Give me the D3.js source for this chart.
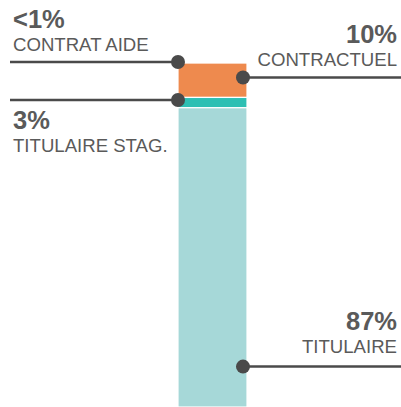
<!DOCTYPE html>
<html>
<head>
<meta charset="utf-8">
<script src="https://cdn.jsdelivr.net/npm/d3@7"></script>
<style>
  body { margin: 0; background: #fff; }
  svg { display: block; }
  text { font-family: "Liberation Sans", Arial, sans-serif; }
</style>
</head>
<body>
<div id="graf"></div>
<script>
// Statuts - barre empilée unique

// Données
categories = ['CONTRAT AIDE', 'CONTRACTUEL', 'TITULAIRE STAG.', 'TITULAIRE']
valeurs    = [0.3, 10, 3, 87]
etiquettes = ['<1%', '10%', '3%', '87%']
couleurs   = ['#ee8a4e', '#ee8a4e', '#2dbfb3', '#a6d8d8']

ancho_total = 401
alto_total  = 407

svg = d3.select('#graf').append('svg')
        .attr('width', ancho_total)
        .attr('height', alto_total)

// empilement : titulaire en bas, contrat aidé en haut
data = categories.map((c, i) => ({ cat: c, value: valeurs[i], label: etiquettes[i], color: couleurs[i] }))
total = d3.sum(valeurs)
acc = 0
data.slice().reverse().forEach(d => {
  d.y0 = acc
  acc += d.value
  d.y1 = acc
})

// Escaladores
x = d3.scaleBand().domain(['statut']).range([178, 247])
y = d3.scaleLinear().domain([0, total]).range([407, 62])

// barres
svg.selectAll('rect.seg')
   .data(data)
   .enter().append('rect')
   .attr('class', 'seg')
   .attr('x', x('statut'))
   .attr('width', x.bandwidth())
   .attr('y', d => y(d.y1))
   .attr('height', d => y(d.y0) - y(d.y1))
   .attr('fill', d => d.color)
   .attr('stroke', '#fff')
   .attr('stroke-width', 1.2)

// annotations : côté, position dans le segment (0 = haut, 1 = bas), texte au-dessus ou dessous
callouts = {
  'CONTRAT AIDE':    { side: 'left',  t: 0,     pos: 'above', dy: 0 },
  'CONTRACTUEL':     { side: 'right', t: 0.42,  pos: 'above', dy: 0 },
  'TITULAIRE STAG.': { side: 'left',  t: 0.25,  pos: 'below', dy: 0 },
  'TITULAIRE':       { side: 'right', t: 0.865, pos: 'above', dy: -3 }
}

gris = '#4a4a4a'
texte = '#5a5a5a'

data.forEach(d => {
  c = callouts[d.cat]
  cy = y(d.y1) + c.t * (y(d.y0) - y(d.y1))
  cx = c.side === 'left' ? x('statut') : x('statut') + x.bandwidth() - 4
  x2 = c.side === 'left' ? 10 : ancho_total
  tx = c.side === 'left' ? 13 : 397
  anchor = c.side === 'left' ? 'start' : 'end'

  svg.append('line')
     .attr('x1', x2).attr('x2', cx)
     .attr('y1', cy).attr('y2', cy)
     .attr('stroke', gris)
     .attr('stroke-width', 2.5)
  svg.append('circle')
     .attr('cx', cx).attr('cy', cy)
     .attr('r', 7)
     .attr('fill', gris)

  yNum = (c.pos === 'above' ? cy - 34 : cy + 29) + c.dy
  yLab = (c.pos === 'above' ? cy - 11 : cy + 52) + c.dy

  svg.append('text')
     .attr('x', tx).attr('y', yNum)
     .attr('text-anchor', anchor)
     .attr('fill', texte)
     .style('font-size', '25.5px')
     .style('font-weight', 'bold')
     .text(d.label)
  svg.append('text')
     .attr('x', tx).attr('y', yLab)
     .attr('text-anchor', anchor)
     .attr('fill', texte)
     .style('font-size', '18.6px')
     .text(d.cat)
})
</script>
</body>
</html>
